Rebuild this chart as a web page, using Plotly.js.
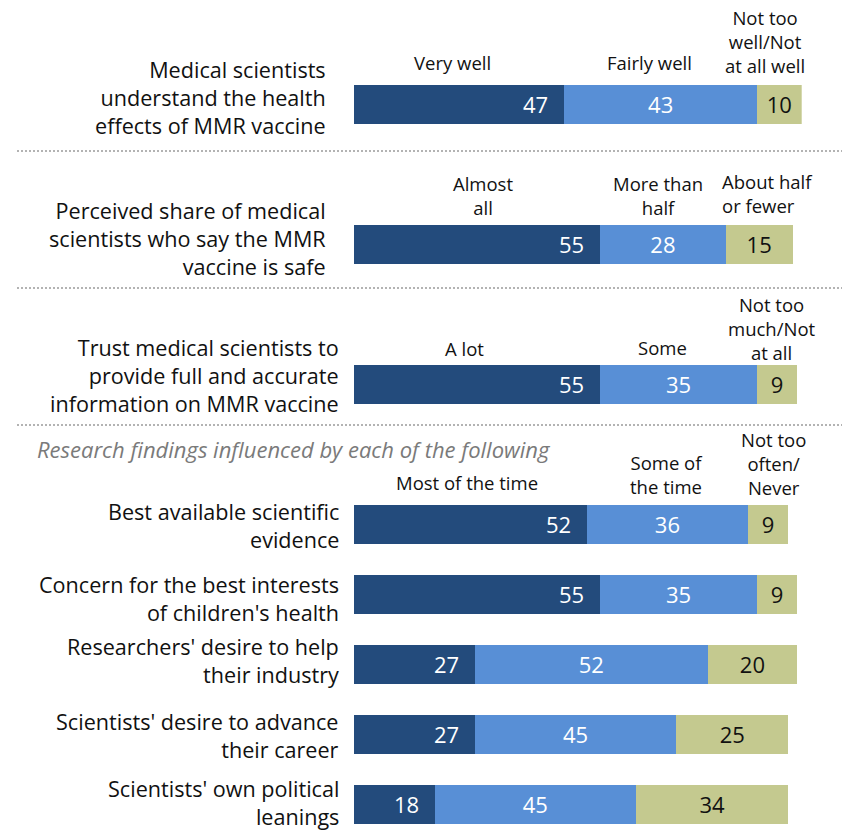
<!DOCTYPE html>
<html>
<head>
<meta charset="utf-8">
<script src="https://cdn.plot.ly/plotly-3.0.1.min.js"></script>
<style>html,body{margin:0;padding:0;background:#fff;}#chart{width:842px;height:833px;}</style>
</head>
<body>
<div id="chart"></div>
<script>
// ---------- DATA ----------
const categories = [
  "Medical scientists<br>understand the health<br>effects of MMR vaccine",
  "Perceived share of medical<br>scientists who say the MMR<br>vaccine is safe",
  "Trust medical scientists to<br>provide full and accurate<br>information on MMR vaccine",
  "Best available scientific<br>evidence",
  "Concern for the best interests<br>of children's health",
  "Researchers' desire to help<br>their industry",
  "Scientists' desire to advance<br>their career",
  "Scientists' own political<br>leanings"
];
const firstShare  = [47, 55, 55, 52, 55, 27, 27, 18];
const middleShare = [43, 28, 35, 36, 35, 52, 45, 45];
const lastShare   = [10, 15,  9,  9,  9, 20, 25, 34];

const headersRow1 = ["Very well", "Fairly well", "Not too<br>well/Not<br>at all well"];
const headersRow2 = ["Almost<br>all", "More than<br>half", "About half<br>or fewer"];
const headersRow3 = ["A lot", "Some", "Not too<br>much/Not<br>at all"];
const headersRow4 = ["Most of the time", "Some of<br>the time", "Not too<br>often/<br>Never"];
const subtitle = "Research findings influenced by each of the following";

// ---------- STYLE / LAYOUT ----------
const W = 842, H = 833;
const FONT = "Open Sans, Liberation Sans, Arial, sans-serif";
const C_DARK = "#234B7C", C_MID = "#588FD6", C_OLIVE = "#C4C98F";
const px = v => v / W;
const py = v => 1 - v / H;

const yOrder = [categories[0], "gap1", categories[1], "gap2", categories[2], "gap3",
  categories[3], categories[4], categories[5], categories[6], categories[7]];

const traces = [
  {type: "bar", orientation: "h", name: "first", y: categories, x: firstShare,
   marker: {color: C_DARK}, textposition: "none", hoverinfo: "x"},
  {type: "bar", orientation: "h", name: "middle", y: categories, x: middleShare,
   marker: {color: C_MID}, text: middleShare.map(String), textposition: "inside",
   insidetextanchor: "middle", textfont: {family: FONT, size: 22, color: "#ffffff"}, hoverinfo: "x"},
  {type: "bar", orientation: "h", name: "last", y: categories, x: lastShare,
   marker: {color: C_OLIVE}, text: lastShare.map(String), textposition: "inside",
   insidetextanchor: "middle", textfont: {family: FONT, size: 22, color: "#111111"}, hoverinfo: "x"}
];

const annotations = [];
// values in first (dark) segment, right-aligned inside segment
firstShare.forEach((v, i) => {
  annotations.push({xref: "x", yref: "y", x: v, y: categories[i], text: String(v),
    xanchor: "right", yanchor: "middle", xshift: -14, showarrow: false,
    font: {family: FONT, size: 22, color: "#ffffff"}});
});
// category labels
const labelRight = [326, 326, 339, 339, 339, 339, 339, 339];
const labelCenterY = [97, 238, 375, 525, 598, 660, 735, 802];
categories.forEach((c, i) => {
  annotations.push({xref: "paper", yref: "paper", x: px(labelRight[i] + 2), y: py(labelCenterY[i]),
    text: c, align: "right", xanchor: "right", yanchor: "middle", showarrow: false,
    font: {family: FONT, size: 21.6, color: "#111111"}});
});
// column headers
function header(text, cx, cy, align, anchor) {
  annotations.push({xref: "paper", yref: "paper", x: px(cx), y: py(cy), text: text,
    align: align || "center", xanchor: anchor || "center", yanchor: "middle", showarrow: false,
    font: {family: FONT, size: 18.5, color: "#111111"}});
}
header(headersRow1[0], 452, 63);
header(headersRow1[1], 649, 63);
header(headersRow1[2], 765, 41.5);
header(headersRow2[0], 483, 195);
header(headersRow2[1], 658, 195);
header(headersRow2[2], 720, 193.5, "left", "left");
header(headersRow3[0], 465, 348);
header(headersRow3[1], 662, 347);
header(headersRow3[2], 772, 328);
header(headersRow4[0], 467, 482);
header(headersRow4[1], 666, 474.5);
header(headersRow4[2], 773, 463);
// subtitle
annotations.push({xref: "paper", yref: "paper", x: px(35), y: py(449), text: "<i>" + subtitle + "</i>",
  xanchor: "left", yanchor: "middle", showarrow: false,
  font: {family: FONT, size: 22, color: "#7a7a7a"}});

const shapes = [151, 288, 425].map(yy => ({type: "line", xref: "paper", yref: "paper",
  x0: px(17), x1: 1, y0: py(yy), y1: py(yy),
  line: {color: "#9a9a9a", width: 1.5, dash: "2px,2px"}}));

const layout = {
  width: W, height: H,
  margin: {l: 0, r: 0, t: 0, b: 0, pad: 0},
  paper_bgcolor: "#ffffff", plot_bgcolor: "#ffffff",
  barmode: "stack", bargap: 0.443, showlegend: false,
  xaxis: {domain: [px(354), px(801.7)], range: [0, 100], visible: false, fixedrange: true},
  yaxis: {type: "category", categoryorder: "array", categoryarray: yOrder,
    range: [10.407, -1.485], visible: false, fixedrange: true},
  annotations: annotations,
  shapes: shapes,
  font: {family: FONT}
};

Plotly.newPlot("chart", traces, layout, {displayModeBar: false, staticPlot: true});
</script>
</body>
</html>
